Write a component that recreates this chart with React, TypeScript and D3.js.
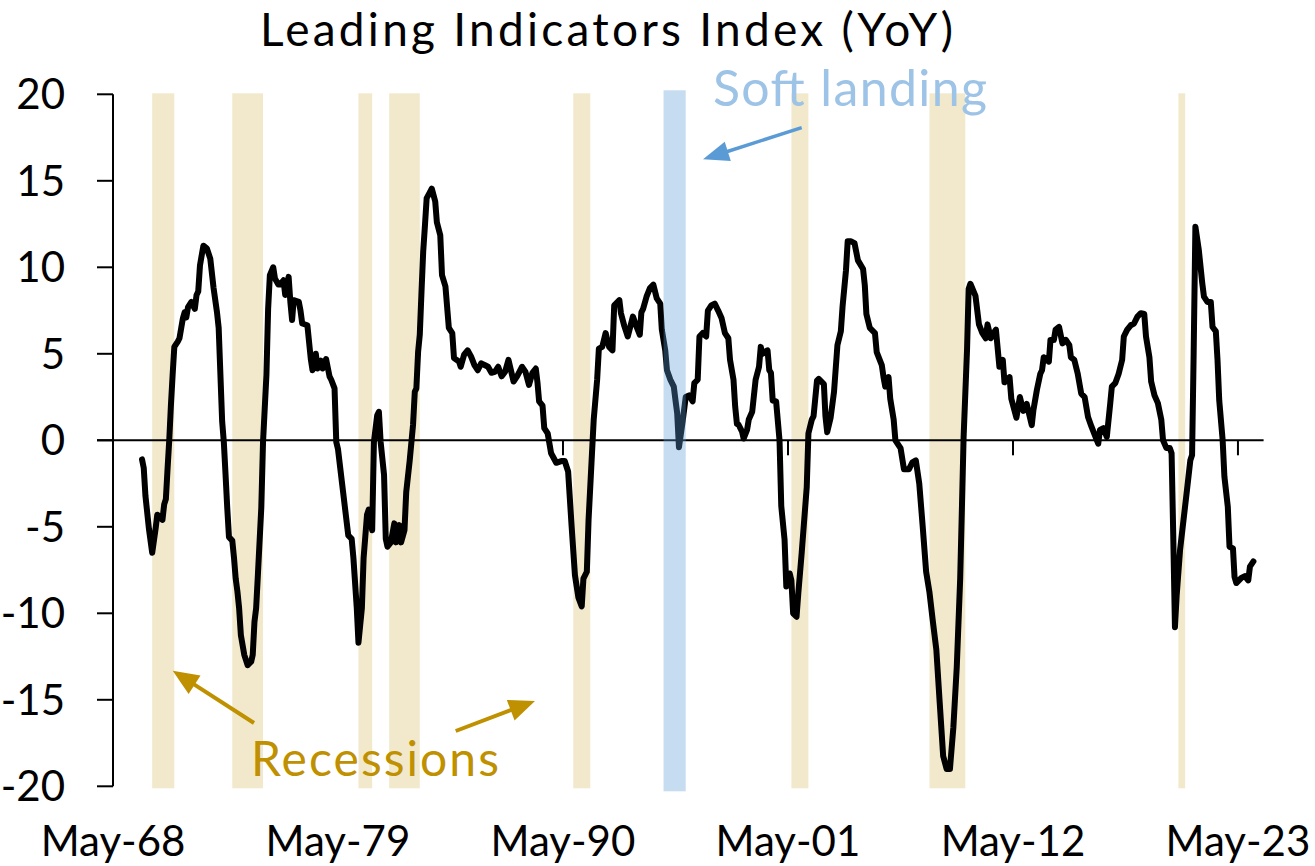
import React from "react";
import * as d3 from "d3";

// ---------------- DATA ----------------
const lineDates = [
"1969-10","1969-11","1969-12","1970-02","1970-04","1970-06","1970-07","1970-10","1970-11","1970-12",
"1971-01","1971-02","1971-03","1971-04","1971-05","1971-07","1971-08","1971-10","1971-11","1971-12",
"1972-01","1972-03","1972-05","1972-06","1972-07","1972-08","1972-09","1972-10","1972-12",
"1973-02","1973-04","1973-06","1973-07","1973-08","1973-09","1973-10","1973-11","1973-12",
"1974-01","1974-03","1974-04","1974-05","1974-06","1974-07","1974-08","1974-10","1974-12",
"1975-02","1975-03","1975-04","1975-05","1975-06","1975-08","1975-09","1975-11","1975-12",
"1976-01","1976-03","1976-04","1976-06","1976-07","1976-09","1976-10","1976-11","1976-12",
"1977-01","1977-02","1977-03","1977-06","1977-07","1977-08","1977-11",
"1978-01","1978-02","1978-04","1978-05","1978-07","1978-08","1978-10","1978-12",
"1979-01","1979-03","1979-04","1979-05","1979-08","1979-11",
"1980-01","1980-02","1980-04","1980-05","1980-07","1980-08","1980-10","1980-11",
"1981-01","1981-02","1981-04","1981-05","1981-06","1981-08","1981-09","1981-10","1981-12",
"1982-02","1982-03","1982-05","1982-06","1982-08","1982-09","1982-11",
"1983-01","1983-02","1983-03","1983-04","1983-05","1983-06","1983-07","1983-08","1983-09","1983-11","1983-12",
"1984-02","1984-03","1984-05","1984-06","1984-08","1984-10","1984-12",
"1985-01","1985-04","1985-05","1985-07","1985-09","1985-11",
"1986-01","1986-03","1986-05","1986-07","1986-09","1986-11",
"1987-01","1987-03","1987-05","1987-07","1987-09","1987-12",
"1988-02","1988-05","1988-07","1988-09","1988-11",
"1989-01","1989-02","1989-03","1989-05","1989-06","1989-08","1989-10",
"1990-01","1990-04","1990-06","1990-08","1990-10","1990-12",
"1991-02","1991-04","1991-05","1991-07","1991-08","1991-10","1991-11",
"1992-01","1992-02","1992-04","1992-06","1992-08","1992-10","1992-11",
"1993-02","1993-03","1993-05","1993-07","1993-10","1993-12",
"1994-02","1994-03","1994-04","1994-06","1994-08","1994-10","1994-12",
"1995-02","1995-03","1995-05","1995-06","1995-08","1995-10","1995-11","1995-12",
"1996-01","1996-03","1996-05","1996-07","1996-09","1996-10","1996-12",
"1997-01","1997-03","1997-05","1997-06","1997-08","1997-10","1997-12",
"1998-02","1998-04","1998-06","1998-07","1998-09","1998-10","1998-11","1998-12",
"1999-02","1999-03","1999-05","1999-06","1999-08","1999-10","1999-12",
"2000-01","2000-02","2000-05","2000-06","2000-07","2000-08","2000-10","2000-12",
"2001-01","2001-03","2001-04","2001-06","2001-07","2001-08","2001-10","2001-11",
"2002-01","2002-04","2002-05","2002-07","2002-08","2002-10","2002-11",
"2003-02","2003-03","2003-04","2003-06","2003-08","2003-10","2003-12",
"2004-01","2004-03","2004-04","2004-06","2004-08","2004-10",
"2005-01","2005-02","2005-03","2005-05","2005-08","2005-09","2005-12",
"2006-01","2006-02","2006-04","2006-05","2006-07","2006-08","2006-11",
"2007-01","2007-04","2007-06","2007-08","2007-10","2007-12",
"2008-02","2008-04","2008-06","2008-08","2008-10","2008-12",
"2009-02","2009-04","2009-06","2009-08","2009-10","2009-11","2009-12",
"2010-02","2010-03","2010-04","2010-07","2010-09","2010-11",
"2011-01","2011-02","2011-04","2011-05","2011-07","2011-09","2011-11","2011-12",
"2012-03","2012-04","2012-07","2012-09","2012-11",
"2013-01","2013-04","2013-05","2013-07","2013-09","2013-10","2013-11",
"2014-02","2014-03","2014-05","2014-06","2014-08","2014-10","2014-12",
"2015-02","2015-03","2015-05","2015-07","2015-09","2015-11",
"2016-01","2016-03","2016-05","2016-07","2016-08","2016-10","2016-12",
"2017-02","2017-03","2017-05","2017-07","2017-09","2017-10","2017-12",
"2018-02","2018-04","2018-06","2018-08","2018-10","2018-11",
"2019-01","2019-02","2019-04","2019-06","2019-08","2019-09","2019-11",
"2020-01","2020-02","2020-03","2020-04","2020-05","2020-07","2020-09","2020-11",
"2021-01","2021-02","2021-03","2021-04","2021-06","2021-08","2021-09","2021-11",
"2022-01","2022-02","2022-04","2022-05","2022-06","2022-08","2022-09","2022-11","2022-12",
"2023-02","2023-03","2023-04","2023-07","2023-09","2023-11","2023-12",
"2024-02"
];

const lineValues = [
-1.1,-1.6,-3.2,-5.1,-6.5,-5.1,-4.3,-4.6,-3.7,-3.4,
-1.6,0.1,2.0,3.8,5.4,5.7,5.9,7.05,7.4,7.1,
7.7,8.0,7.6,8.4,8.6,10.1,10.7,11.25,11.1,
10.5,8.8,7.4,6.5,3.8,1.1,-0.1,-2.0,-3.9,
-5.6,-5.8,-6.8,-8.0,-8.75,-9.7,-11.25,-12.4,-13.0,
-12.8,-12.4,-10.5,-9.7,-7.8,-3.9,-0.1,3.8,7.6,
9.55,10.0,9.35,9.0,9.0,9.25,8.4,9.0,9.45,
8.0,6.95,8.1,8.0,7.5,6.75,6.65,
4.7,4.05,5.0,4.15,4.6,4.15,4.7,3.7,
3.5,3.0,-0.1,-0.5,-3.0,-5.5,
-5.7,-6.8,-9.7,-11.7,-9.7,-6.8,-4.3,-4.0,
-5.2,-0.1,1.45,1.65,-0.1,-2.0,-5.7,-6.15,-5.9,
-4.8,-5.9,-4.9,-5.9,-5.2,-3.0,-1.2,
0.9,2.8,3.0,5.1,6.1,8.6,10.9,12.4,14.0,14.35,14.55,
13.8,12.6,11.85,9.55,8.9,6.5,6.2,
4.75,4.55,4.25,4.95,5.2,4.85,
4.35,4.05,4.45,4.35,4.25,3.9,
3.95,4.25,3.7,3.95,4.65,3.4,
3.7,4.25,3.95,3.2,3.9,
4.15,3.3,2.25,2.0,0.7,0.4,-0.75,
-1.3,-1.2,-1.2,-1.8,-4.9,-7.8,
-9.1,-9.6,-8.0,-7.6,-4.6,-0.75,1.2,
3.5,5.3,5.4,6.2,5.4,5.2,7.8,
8.1,7.35,6.6,6.0,7.15,6.6,
6.1,7.4,7.6,8.3,8.8,9.0,8.2,
7.9,6.4,5.2,4.05,3.5,3.1,2.3,1.55,
-0.4,0.95,2.5,2.6,2.25,3.3,3.5,
6.0,6.2,6.0,7.5,7.8,7.9,7.5,
7.05,6.2,5.9,4.65,3.5,1.95,0.95,0.9,
0.5,0.1,0.6,1.2,1.65,3.5,4.25,
5.4,5.0,5.2,4.05,3.9,2.3,2.25,0.0,
-3.8,-5.75,-8.45,-7.7,-8.1,-10.0,-10.2,-8.85,
-6.5,-2.7,0.4,1.2,1.4,3.45,3.55,
3.25,1.4,0.47,1.3,2.8,5.5,6.3,
7.75,9.8,11.5,11.5,11.4,10.4,
9.9,8.95,7.3,6.5,6.2,5.1,4.35,
3.65,3.1,3.65,2.4,1.2,0.0,-0.45,
-1.67,-1.67,-1.27,-1.16,-2.5,-4.95,
-7.6,-8.8,-10.5,-12.1,-15.2,-18.25,
-19.0,-19.0,-16.6,-13.1,-8.0,-3.9,0.17,
5.3,8.75,9.05,8.35,6.7,6.2,
5.9,6.7,5.9,6.1,6.4,4.25,4.65,3.35,
3.65,2.4,1.3,2.5,1.7,
2.1,0.88,1.75,2.9,3.85,4.05,4.8,
4.55,5.8,5.8,6.4,6.55,5.6,5.8,
5.5,4.8,4.65,3.85,2.7,2.5,
1.35,0.8,0.3,-0.2,0.6,0.7,0.2,
2.15,3.1,3.3,3.85,4.65,6.0,6.4,
6.65,6.75,7.15,7.35,7.3,6.0,
4.8,3.4,2.6,2.15,1.2,0.0,-0.45,
-0.45,-0.75,-5.4,-10.8,-9.0,-6.35,-4.6,-2.9,
-1.15,-0.85,5.0,12.35,11.0,9.1,8.3,8.0,
8.0,6.55,6.3,4.65,2.3,0.0,-2.1,-3.85,-6.15,
-6.25,-7.9,-8.25,-7.95,-7.85,-8.1,-7.3,
-7.0
];

const recessionStarts = ["1970-04","1974-03","1980-05","1981-11","1990-11","2001-07","2008-04","2020-06"];
const recessionEnds   = ["1971-05","1975-09","1981-01","1983-05","1991-09","2002-05","2010-01","2020-10"];
const softLandingStart = "1995-04";
const softLandingEnd = "1996-05";

const xTickDates = ["1968-05","1979-05","1990-05","2001-05","2012-05","2023-05"];
const xTickLabels = ["May-68","May-79","May-90","May-01","May-12","May-23"];
const yTicks = [20, 15, 10, 5, 0, -5, -10, -15, -20];

const titleText = "Leading Indicators Index (YoY)";
const recessionLabel = "Recessions";
const softLandingLabel = "Soft landing";

// ---------------- CHART ----------------
const W = 1315;
const H = 866;
const FONT = "Lato, 'Open Sans', sans-serif";
const parse = d3.timeParse("%Y-%m");

function Arrow({ x1, y1, x2, y2, color, width, headLen, headHalf }: any) {
  const dx = x2 - x1, dy = y2 - y1;
  const len = Math.sqrt(dx * dx + dy * dy);
  const ux = dx / len, uy = dy / len;
  const bx = x2 - ux * headLen, by = y2 - uy * headLen;
  const px = -uy, py = ux;
  const pts = [
    [x2, y2],
    [bx + px * headHalf, by + py * headHalf],
    [bx - px * headHalf, by - py * headHalf],
  ];
  return (
    <g>
      <line x1={x1} y1={y1} x2={bx + ux * 2} y2={by + uy * 2} stroke={color} strokeWidth={width} />
      <polygon points={pts.map((p) => p.join(",")).join(" ")} fill={color} />
    </g>
  );
}

export default function App() {
  const x = d3.scaleTime().domain([parse("1968-05")!, parse("2024-08")!]).range([113, 1263.6]);
  const y = d3.scaleLinear().domain([-20, 20]).range([786.3, 94.3]);

  const data = lineDates.map((d, i) => ({ date: parse(d)!, v: lineValues[i] }));
  const line = d3
    .line<{ date: Date; v: number }>()
    .x((d) => x(d.date))
    .y((d) => y(d.v));

  const x0 = x.range()[0];
  const xEnd = x.range()[1];

  return (
    <svg
      width={W}
      height={H}
      viewBox={`0 0 ${W} ${H}`}
      style={{ position: "absolute", left: 0, top: 0, background: "#fff" }}
      fontFamily={FONT}
    >
      <rect x={0} y={0} width={W} height={H} fill="#fff" />

      {/* recession bands */}
      {recessionStarts.map((s, i) => {
        const xa = x(parse(s)!);
        const xb = x(parse(recessionEnds[i])!);
        return (
          <rect key={s} x={xa} y={y(20) - 1} width={xb - xa} height={y(-20) - y(20) + 3} fill="#F2E9CC" />
        );
      })}

      {/* y axis */}
      <line x1={x0} y1={y(20)} x2={x0} y2={y(-20)} stroke="#000" strokeWidth={2} />
      {yTicks.map((t) => (
        <g key={t}>
          <line x1={x0 - 16} x2={x0} y1={y(t)} y2={y(t)} stroke="#000" strokeWidth={2} />
          <text x={65} y={y(t)} dy="0.36em" textAnchor="end" fontSize={42} fill="#000">
            {String(t)}
          </text>
        </g>
      ))}

      {/* x axis at zero */}
      <line x1={x0 - 16} x2={xEnd} y1={y(0)} y2={y(0)} stroke="#000" strokeWidth={2} />
      {xTickDates.map((d, i) => {
        const xx = x(parse(d)!);
        return (
          <g key={d}>
            {i > 0 && <line x1={xx} x2={xx} y1={y(0)} y2={y(0) + 15} stroke="#000" strokeWidth={2} />}
            <text x={xx} y={856} textAnchor="middle" fontSize={42} fill="#000">
              {xTickLabels[i]}
            </text>
          </g>
        );
      })}

      {/* main line */}
      <path d={line(data) || ""} fill="none" stroke="#000" strokeWidth={6} strokeLinejoin="round" strokeLinecap="round" />

      {/* soft landing band drawn on top */}
      <rect
        x={x(parse(softLandingStart)!)}
        y={y(20) - 4}
        width={x(parse(softLandingEnd)!) - x(parse(softLandingStart)!)}
        height={y(-20) - y(20) + 9}
        fill="#5B9BD5"
        fillOpacity={0.35}
      />

      {/* title */}
      <text x={260} y={46} fontSize={46} fill="#000" textLength={693} lengthAdjust="spacing">
        {titleText}
      </text>

      {/* annotations */}
      <text x={713} y={106} fontSize={50} fill="#9DC3E6" textLength={274} lengthAdjust="spacing">
        {softLandingLabel}
      </text>
      <Arrow x1={801.7} y1={127.7} x2={703} y2={159.3} color="#5B9BD5" width={3.5} headLen={26} headHalf={10} />

      <text x={251} y={776} fontSize={48} fill="#BF9000" textLength={248} lengthAdjust="spacing">
        {recessionLabel}
      </text>
      <Arrow x1={254} y1={723} x2={172.7} y2={670.7} color="#BF9000" width={4} headLen={26} headHalf={11} />
      <Arrow x1={455.7} y1={731} x2={535} y2={701} color="#BF9000" width={4} headLen={26} headHalf={11} />
    </svg>
  );
}
